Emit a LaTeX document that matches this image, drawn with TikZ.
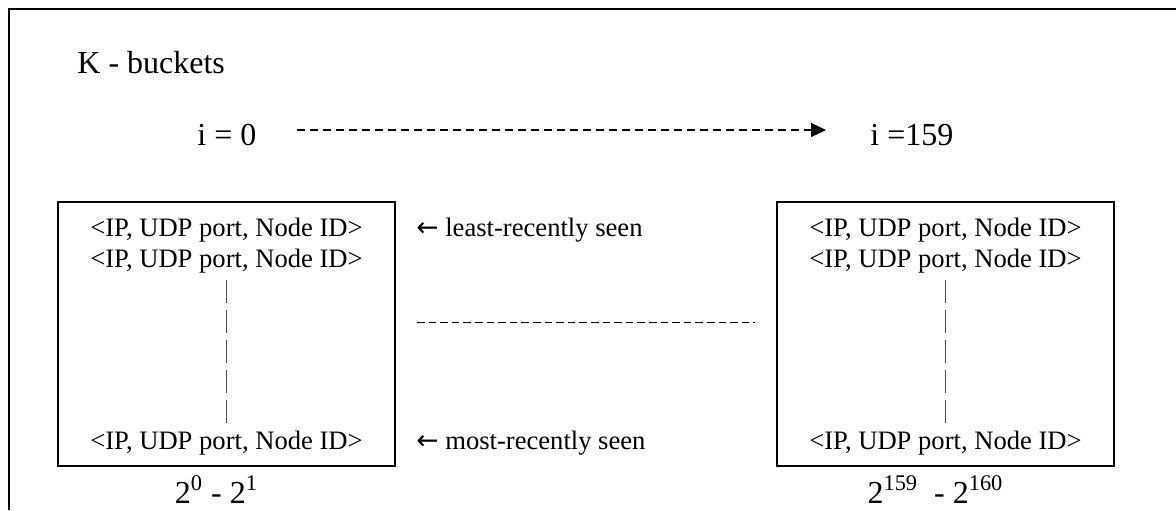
\documentclass[tikz,border=0pt]{standalone}
\usepackage{fontspec}
\setmainfont{Liberation Serif}
\newfontfamily\arrowfont{DejaVu Sans}
\usetikzlibrary{arrows.meta}

\tikzset{
  entry/.style={font=\fontsize{13.3}{16}\selectfont, inner sep=0pt, anchor=base},
  head/.style={font=\fontsize{16}{19}\selectfont, inner sep=0pt, anchor=base west},
  bucket/.style={draw, line width=1pt, minimum width=168.5pt, minimum height=132pt, inner sep=0pt},
  gapline/.style={dash pattern=on 11.5pt off 3.5pt, line width=0.4pt, black!70},
}

\begin{document}
\begin{tikzpicture}[x=0.5pt,y=-0.5pt]
	\useasboundingbox (0,0) rectangle (1176,510);
	\draw[line width=1pt] (9,510) -- (9,9) -- (1176,9);

	\node[head] (title) at (77,73) {K - buckets};
	\node[head] (izero) at (197,145) {i = 0};
	\node[head] (ilast) at (870,145) {i =159};
	\coordinate (arrS) at (297,130);
	\coordinate (arrE) at (826,130);
	\draw[dash pattern=on 4pt off 2.5pt, line width=0.6pt,
		-{Triangle[length=7.5pt,width=7pt]}] (arrS) -- (arrE);

	% the two buckets
	\foreach \b/\cx/\lab in {first/226.5/{2\textsuperscript{0} - 2\textsuperscript{1}},
			last/945.5/{2\textsuperscript{159}\ \ - 2\textsuperscript{160}}}{
		\node[bucket] (\b) at (\cx,334) {};
		\node[entry] (\b-top) at (\cx,236) {<IP, UDP port, Node ID>};
		\node[entry] (\b-next) at (\cx,267) {<IP, UDP port, Node ID>};
		\node[entry] (\b-end) at (\cx,449) {<IP, UDP port, Node ID>};
		\coordinate (\b-a) at (\cx,280);
		\coordinate (\b-z) at (\cx,427);
		\draw[gapline] (\b-a) -- (\b-z);
		\node[head, anchor=base] (\b-range) at (\cx-10,503) {\lab};
	}

	\node[entry, anchor=base west] (lrs) at (416,236) {{\arrowfont ←} least-recently seen};
	\node[entry, anchor=base west] (mrs) at (416,449) {{\arrowfont ←} most-recently seen};
	\coordinate (midS) at (417,322);
	\coordinate (midE) at (755,322);
	\draw[dash pattern=on 3.8pt off 2pt, line width=0.5pt] (midS) -- (midE);
\end{tikzpicture}
\end{document}
